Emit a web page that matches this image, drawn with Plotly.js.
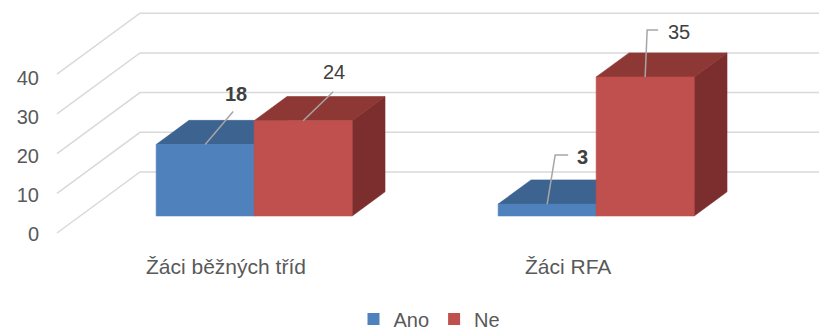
<!DOCTYPE html>
<html>
<head>
<meta charset="utf-8">
<script src="https://cdn.plot.ly/plotly-3.0.1.min.js"></script>
<style>html,body{margin:0;padding:0;background:#fff;}#chart{width:819px;height:330px;}</style>
</head>
<body>
<div id="chart"></div>
<script>
// ---- data ----
const categories = ['Žáci běžných tříd', 'Žáci RFA'];
const seriesNames = ['Ano', 'Ne'];
const ano = [18, 3];
const ne = [24, 35];
const tickValues = [0, 10, 20, 30, 40];

// ---- styling / projection config ----
const W = 819, H = 330;
const PX_X = 342;          // pixels per category unit
const PX_Y = 3.97;         // pixels per value unit
const ORIGIN_X = 231;      // pixel of category 0 at front floor
const ORIGIN_Y = 233;      // pixel of value 0 at front floor
const ML = 40;
const DX = 83 / PX_X;      // depth shift (x, category units)
const DY = 61 / PX_Y;      // depth shift (y, value units)
const BW = 0.2865;         // bar width in category units
const Z0 = 0.279, Z1 = 0.675; // bar front/back depth
const WALL_C = -0.5088;    // left wall position (front)

const seriesStyle = [
  {front: '#4F81BD', top: '#3D6390', side: '#35577E', bold: true},
  {front: '#C0504D', top: '#8E3836', side: '#7B2E2D', bold: false}
];
// label offsets (pixels) relative to bar front-top centre, and leader path offsets
const labelOffsets = [
  [{tx: 31, ty: -51, path: [[0,0],[28,-33]]}, {tx: 35, ty: -47, path: [[0,0],[8,-49],[21,-49]]}],
  [{tx: 30.5, ty: -48.5, path: [[0,0],[30,-29]]}, {tx: 34, ty: -45, path: [[0,0],[2,-47],[13,-47]]}]
];

const P = (c, v, z) => [c + z * DX, v + z * DY];

const xRange = [(ML - ORIGIN_X) / PX_X, (W - ORIGIN_X) / PX_X];
const yRange = [-(H - ORIGIN_Y) / PX_Y, ORIGIN_Y / PX_Y];

const traces = [];

// gridlines: back wall + left wall diagonals
const gx = [], gy = [];
tickValues.forEach(v => {
  const a = P(WALL_C, v, 0), b = P(WALL_C, v, 1);
  gx.push(a[0], b[0], xRange[1] + 0.1, null);
  gy.push(a[1], b[1], b[1], null);
});
traces.push({x: gx, y: gy, mode: 'lines', line: {color: '#D9D9D9', width: 1.5},
  hoverinfo: 'skip', showlegend: false});

function poly(pts, color) {
  const xs = pts.map(p => p[0]), ys = pts.map(p => p[1]);
  xs.push(xs[0]); ys.push(ys[0]);
  return {x: xs, y: ys, mode: 'lines', fill: 'toself', fillcolor: color,
    line: {color: color, width: 0.6}, hoverinfo: 'skip', showlegend: false};
}

const allSeries = [ano, ne];
const annotations = [];
allSeries.forEach((vals, s) => {
  const st = seriesStyle[s];
  vals.forEach((v, i) => {
    const cl = s === 0 ? i - BW : i;
    const cr = s === 0 ? i : i + BW;
    traces.push(poly([P(cr,0,Z0), P(cr,0,Z1), P(cr,v,Z1), P(cr,v,Z0)], st.side));
    traces.push(poly([P(cl,v,Z0), P(cr,v,Z0), P(cr,v,Z1), P(cl,v,Z1)], st.top));
    traces.push(poly([P(cl,0,Z0), P(cr,0,Z0), P(cr,v,Z0), P(cl,v,Z0)], st.front));
  });
});

// leaders and labels (drawn after bars)
allSeries.forEach((vals, s) => {
  const st = seriesStyle[s];
  vals.forEach((v, i) => {
    const cm = s === 0 ? i - BW / 2 : i + BW / 2;
    const anchor = P(cm, v, Z0);
    const lo = labelOffsets[s][i];
    traces.push({
      x: lo.path.map(p => anchor[0] + p[0] / PX_X),
      y: lo.path.map(p => anchor[1] - p[1] / PX_Y),
      mode: 'lines', line: {color: '#A6A6A6', width: 1.5},
      hoverinfo: 'skip', showlegend: false
    });
    annotations.push({
      x: anchor[0], y: anchor[1], xref: 'x', yref: 'y',
      xshift: lo.tx, yshift: -lo.ty, showarrow: false,
      text: st.bold ? '<b>' + v + '</b>' : String(v),
      font: {family: 'Liberation Sans, Arial, sans-serif', size: 20, color: '#404040'},
      xanchor: 'center', yanchor: 'middle'
    });
  });
});

// category labels at the front floor edge
categories.forEach((c, i) => {
  annotations.push({
    x: i - 0.015, y: (H - 266) / H, xref: 'x', yref: 'paper',
    text: c, showarrow: false, xanchor: 'center', yanchor: 'middle',
    font: {family: 'Liberation Sans, Arial, sans-serif', size: 21, color: '#595959'}
  });
});

// legend entries
seriesNames.forEach((n, s) => {
  traces.push({type: 'bar', x: [null], y: [null], name: n, yaxis: 'y2',
    marker: {color: seriesStyle[s].front}, hoverinfo: 'skip'});
});

const layout = {
  width: W, height: H,
  margin: {l: ML, r: 0, t: 0, b: 0, autoexpand: false},
  paper_bgcolor: '#fff', plot_bgcolor: 'rgba(0,0,0,0)',
  xaxis: {range: xRange, visible: false, fixedrange: true},
  yaxis: {range: yRange, visible: false, fixedrange: true},
  yaxis2: {
    overlaying: 'y', side: 'left', anchor: 'x',
    range: [-(H - 233.7) / 3.9, 233.7 / 3.9],
    tickvals: tickValues, ticktext: tickValues.map(String),
    showgrid: false, zeroline: false, showline: false, ticks: '',
    tickfont: {family: 'Liberation Sans, Arial, sans-serif', size: 20, color: '#595959'},
    fixedrange: true
  },
  showlegend: true,
  legend: {
    orientation: 'h', x: 0.5, xanchor: 'center', y: (H - 319) / H, yanchor: 'middle',
    font: {family: 'Liberation Sans, Arial, sans-serif', size: 20, color: '#595959'},
    bgcolor: 'rgba(0,0,0,0)', itemclick: false, itemdoubleclick: false, tracegroupgap: 0
  },
  annotations: annotations
};

Plotly.newPlot('chart', traces, layout, {displayModeBar: false, staticPlot: true});
</script>
</body>
</html>
